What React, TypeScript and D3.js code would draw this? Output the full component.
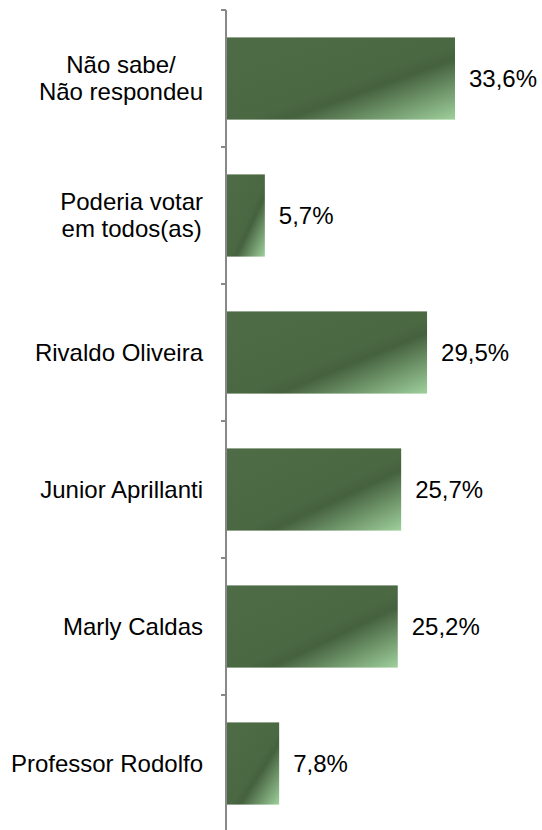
import React from "react";
import * as d3 from "d3";

const categories: string[][] = [
  ["Não sabe/", "Não respondeu"],
  ["Poderia votar", "em todos(as)"],
  ["Rivaldo Oliveira"],
  ["Junior Aprillanti"],
  ["Marly Caldas"],
  ["Professor Rodolfo"],
];
const values: number[] = [33.6, 5.7, 29.5, 25.7, 25.2, 7.8];
const valueLabels: string[] = ["33,6%", "5,7%", "29,5%", "25,7%", "25,2%", "7,8%"];

const FONT = "'Liberation Sans', Arial, sans-serif";
const FS = 24;

function measure(text: string): number {
  if (typeof document === "undefined") return text.length * FS * 0.5;
  const c = (measure as any).c || ((measure as any).c = document.createElement("canvas"));
  const ctx = c.getContext("2d");
  ctx.font = `${FS}px 'Liberation Sans', Arial, sans-serif`;
  return ctx.measureText(text).width;
}

export default function App() {
  const W = 542, H = 830;
  const x0 = 226;
  const right = 203;
  const y = d3.scaleBand<number>().domain(d3.range(values.length)).range([10, 832]).paddingInner(0.4).paddingOuter(0.2);
  const x = d3.scaleLinear().domain([0, 33.6]).range([x0, 455]);
  const step = y.step();
  const ticks = d3.range(values.length + 1).map((i) => 10 + i * step);
  return (
    <svg width={W} height={H} style={{ position: "absolute", left: 0, top: 0, display: "block" }}>
      <defs>
        <linearGradient id="g" x1="0" y1="0" x2="1" y2="1">
          <stop offset="0" stopColor="#4e6d47" />
          <stop offset="0.55" stopColor="#4a6842" />
          <stop offset="0.63" stopColor="#45613e" />
          <stop offset="1" stopColor="#9fd09c" />
        </linearGradient>
      </defs>
      {values.map((v, i) => (
        <rect key={i} x={x0} y={y(i)} width={x(v) - x0} height={y.bandwidth()} fill="url(#g)" />
      ))}
      <line x1={x0} x2={x0} y1={10} y2={H} stroke="#888" strokeWidth={2} />
      {ticks.map((t, i) => (
        <line key={i} x1={x0 - 5} x2={x0} y1={t} y2={t} stroke="#888" strokeWidth={2} />
      ))}
      {categories.map((lines, i) => {
        const cy = (y(i) as number) + y.bandwidth() / 2;
        const lh = 27;
        const start = cy - ((lines.length - 1) * lh) / 2;
        const maxW = d3.max(lines, (l) => measure(l)) as number;
        const cx = lines.length > 1 ? right - maxW / 2 : right;
        const anchor = lines.length > 1 ? "middle" : "end";
        return (
          <text key={i} textAnchor={anchor} fontFamily={FONT} fontSize={FS} fill="#000">
            {lines.map((l, j) => (
              <tspan key={j} x={cx} y={start + j * lh} dy="0.35em">{l}</tspan>
            ))}
          </text>
        );
      })}
      {values.map((v, i) => (
        <text key={i} x={x(v) + 14} y={(y(i) as number) + y.bandwidth() / 2} dy="0.35em" fontFamily={FONT} fontSize={FS} fill="#000">
          {valueLabels[i]}
        </text>
      ))}
    </svg>
  );
}
